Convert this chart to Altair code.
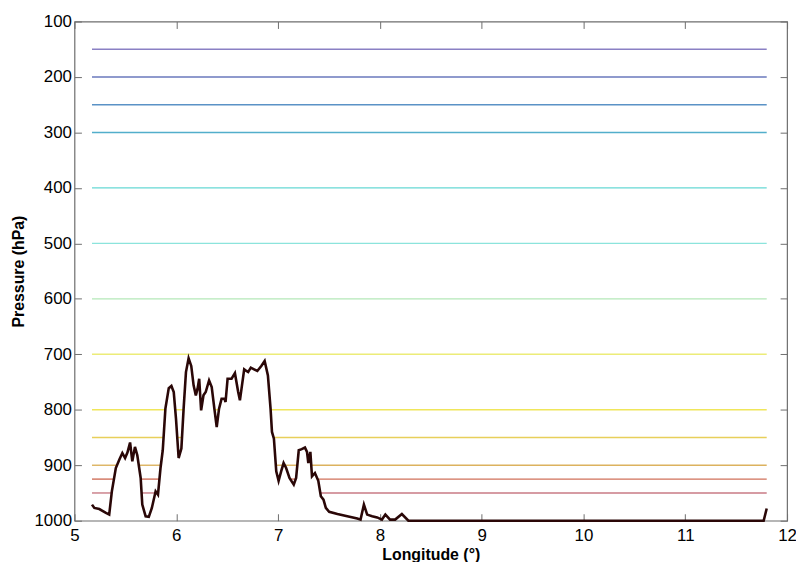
import altair as alt
import pandas as pd

# Terrain (surface pressure, hPa) along the cross-section
lon = [5.172, 5.195, 5.244, 5.309, 5.341, 5.367, 5.406, 5.44, 5.47, 5.497, 5.52, 5.546, 5.568, 5.594,
       5.617, 5.65, 5.666, 5.699, 5.73, 5.76, 5.797, 5.82, 5.845, 5.867, 5.893, 5.926, 5.952, 5.975,
       5.997, 6.023, 6.05, 6.072, 6.095, 6.121, 6.147, 6.17, 6.192, 6.209, 6.225, 6.244, 6.267, 6.289,
       6.322, 6.348, 6.374, 6.397, 6.42, 6.445, 6.472, 6.484, 6.504, 6.543, 6.576, 6.608, 6.625, 6.667,
       6.689, 6.706, 6.732, 6.764, 6.796, 6.835, 6.868, 6.9, 6.926, 6.94, 6.959, 6.982, 7.005, 7.03,
       7.054, 7.079, 7.112, 7.154, 7.177, 7.203, 7.232, 7.264, 7.284, 7.297, 7.317, 7.333, 7.362, 7.395,
       7.42, 7.446, 7.469, 7.502, 7.583, 7.68, 7.778, 7.81, 7.843, 7.875, 7.924, 7.973, 8.02, 8.054,
       8.1, 8.15, 8.216, 8.28, 11.77, 11.80]
surface_p = [971, 977, 979, 986, 989, 947, 905, 890, 878, 887, 877, 859, 893, 867,
             882, 923, 971, 992, 993, 977, 947, 953, 905, 873, 798, 761, 757, 768,
             816, 887, 870, 798, 732, 707, 721, 756, 774, 762, 744, 801, 774, 768,
             747, 759, 798, 831, 798, 780, 780, 786, 744, 744, 734, 768, 783, 727,
             730, 732, 724, 727, 730, 721, 712, 738, 798, 840, 852, 911, 928, 911,
             896, 905, 923, 935, 923, 873, 871, 868, 876, 896, 876, 920, 914, 928,
             956, 962, 977, 984, 988, 992, 996, 998, 971, 989, 992, 994, 998, 989,
             998, 998, 988, 1000, 1000, 978]

# Pressure levels and their colours
levels = [150, 200, 250, 300, 400, 500, 600, 700, 800, 850, 900, 925, 950]
level_colors = ["#8a80c4", "#6a78bc", "#5a92c6", "#52aecb", "#66d8d4", "#8ce4dc", "#b4e8b8",
                "#ecec78", "#f0e65a", "#e8cf5a", "#dcb25e", "#d0705a", "#c87a84"]

x_ticks = [5, 6, 7, 8, 9, 10, 11, 12]
y_ticks = [100, 200, 300, 400, 500, 600, 700, 800, 900, 1000]

terrain = pd.DataFrame({"lon": lon, "p": surface_p})

# Level lines, kept only where the level lies above the ground
rows = []
for L in levels:
    seg = 0
    for i in range(len(lon)):
        above = surface_p[i] >= L
        if i > 0:
            prev_above = surface_p[i - 1] >= L
            if above != prev_above:
                t = (L - surface_p[i - 1]) / (surface_p[i] - surface_p[i - 1])
                xc = lon[i - 1] + t * (lon[i] - lon[i - 1])
                rows.append({"lon": xc, "p": L, "level": L, "seg": f"{L}-{seg}"})
                if prev_above:
                    seg += 1
        if above:
            rows.append({"lon": lon[i], "p": L, "level": L, "seg": f"{L}-{seg}"})
lev_df = pd.DataFrame(rows)

W, H = 718, 503
GRAY = "#6e6e6e"
FONT = "Liberation Sans"

xs = alt.Scale(domain=[5, 12], nice=False, zero=False)
ys = alt.Scale(domain=[100, 1000], reverse=True, nice=False, zero=False)

main_x = alt.Axis(values=x_ticks, title="Longitude (°)", ticks=False, grid=False, domain=False,
                  labelFont=FONT, labelFontSize=17, labelColor="#000000", labelPadding=7,
                  titleFont=FONT, titleFontSize=16, titleFontWeight="bold", titleColor="#000000",
                  titlePadding=3, format="d", labelFlush=False)
main_y = alt.Axis(values=y_ticks, title="Pressure (hPa)", ticks=False, grid=False, domain=False,
                  labelFont=FONT, labelFontSize=17, labelColor="#000000", labelPadding=3,
                  titleFont=FONT, titleFontSize=16, titleFontWeight="bold", titleColor="#000000",
                  titlePadding=8, format="d", labelFlush=False)


def tick_axis(orient, offset, values):
    # inward-pointing ticks: an axis on the opposite side, moved across the plot
    return alt.Axis(orient=orient, offset=offset, values=values, labels=False,
                    domain=False, grid=False, ticks=True, tickSize=7, tickColor=GRAY,
                    tickWidth=1, title=None)


lines = alt.Chart(lev_df).mark_line(strokeWidth=1.4).encode(
    x=alt.X("lon:Q", scale=xs, axis=main_x),
    y=alt.Y("p:Q", scale=ys, axis=main_y),
    color=alt.Color("level:O", scale=alt.Scale(domain=levels, range=level_colors), legend=None),
    detail="seg:N",
)

ground = alt.Chart(terrain).mark_line(strokeWidth=2.6, color="#2a0707").encode(
    x=alt.X("lon:Q", scale=xs, axis=tick_axis("top", -H, x_ticks)),
    y=alt.Y("p:Q", scale=ys, axis=tick_axis("right", -W, y_ticks)),
)

ghost = alt.Chart(terrain).mark_line(opacity=0).encode(
    x=alt.X("lon:Q", scale=xs, axis=tick_axis("bottom", -H, x_ticks)),
    y=alt.Y("p:Q", scale=ys, axis=tick_axis("left", -W, y_ticks)),
)

chart = alt.layer(lines, ground, ghost).resolve_axis(x="independent", y="independent").properties(
    width=W, height=H,
    autosize=alt.AutoSizeParams(type="none"),
    padding={"left": 67, "top": 11.5, "right": 9, "bottom": 40},
    background="#ffffff",
).configure_view(stroke=GRAY, strokeWidth=1.2)

chart.save("out.html", embed_options={"renderer": "svg", "actions": False})
